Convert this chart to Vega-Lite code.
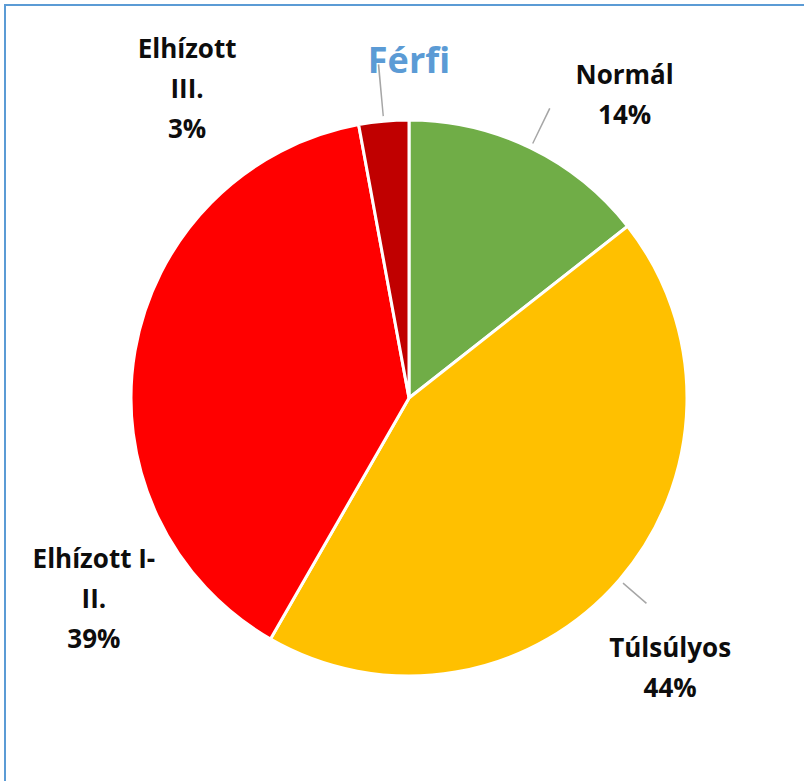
{
  "$schema": "https://vega.github.io/schema/vega-lite/v6.json",
  "width": 808,
  "height": 786,
  "autosize": {"type": "none"},
  "padding": {"left": 5, "top": 5, "right": 0, "bottom": 0},
  "background": "#ffffff",
  "view": {"stroke": "#5B9BD5", "strokeWidth": 2},
  "config": {"view": {"stroke": "#5B9BD5", "strokeWidth": 2}},
  "title": {
    "text": "Férfi",
    "color": "#5B9BD5",
    "font": "Open Sans",
    "fontSize": 36,
    "fontWeight": "bold",
    "anchor": "middle",
    "frame": "group",
    "baseline": "alphabetic",
    "offset": -104
  },
  "data": {
    "values": [
      {"kategoria": "Normál", "arany": 14.4, "sorrend": 1, "felirat": "Normál\n14%"},
      {"kategoria": "Túlsúlyos", "arany": 43.9, "sorrend": 2, "felirat": "Túlsúlyos\n44%"},
      {"kategoria": "Elhízott I-II.", "arany": 38.8, "sorrend": 3, "felirat": "Elhízott I-\nII.\n39%"},
      {"kategoria": "Elhízott III.", "arany": 2.9, "sorrend": 4, "felirat": "Elhízott\nIII.\n3%"}
    ]
  },
  "layer": [
    {
      "mark": {"type": "arc", "outerRadius": 278, "stroke": "#ffffff", "strokeWidth": 3},
      "encoding": {
        "theta": {"field": "arany", "type": "quantitative", "stack": true, "scale": {"domain": [0, 100]}},
        "order": {"field": "sorrend", "type": "quantitative"},
        "color": {
          "field": "kategoria",
          "type": "nominal",
          "scale": {
            "domain": ["Normál", "Túlsúlyos", "Elhízott I-II.", "Elhízott III."],
            "range": ["#70AD47", "#FFC000", "#FF0000", "#C00000"]
          },
          "legend": null
        }
      }
    },
    {
      "transform": [
        {"stack": "arany", "groupby": [], "sort": [{"field": "sorrend", "order": "ascending"}], "as": ["s0", "s1"]},
        {"filter": "datum.kategoria === 'Normál'"}
      ],
      "mark": {"type": "arc", "radius": 322, "radius2": 283, "thetaOffset": 0.4499, "theta2Offset": -0.4499, "fill": "#A6A6A6"},
      "encoding": {
        "theta": {"field": "s0", "type": "quantitative", "scale": {"domain": [0, 100]}},
        "theta2": {"field": "s1"}
      }
    },
    {
      "transform": [
        {"stack": "arany", "groupby": [], "sort": [{"field": "sorrend", "order": "ascending"}], "as": ["s0", "s1"]},
        {"filter": "datum.kategoria === 'Túlsúlyos'"}
      ],
      "mark": {"type": "arc", "radius": 314, "radius2": 283, "thetaOffset": 1.3767, "theta2Offset": -1.3767, "fill": "#A6A6A6"},
      "encoding": {
        "theta": {"field": "s0", "type": "quantitative", "scale": {"domain": [0, 100]}},
        "theta2": {"field": "s1"}
      }
    },
    {
      "transform": [
        {"stack": "arany", "groupby": [], "sort": [{"field": "sorrend", "order": "ascending"}], "as": ["s0", "s1"]},
        {"filter": "datum.kategoria === 'Elhízott III.'"}
      ],
      "mark": {"type": "arc", "radius": 335, "radius2": 283, "thetaOffset": 0.0886, "theta2Offset": -0.0886, "fill": "#A6A6A6"},
      "encoding": {
        "theta": {"field": "s0", "type": "quantitative", "scale": {"domain": [0, 100]}},
        "theta2": {"field": "s1"}
      }
    },
    {
      "mark": {"type": "text", "radius": 340, "dx": 67, "dy": -16, "font": "Open Sans", "fontSize": 26, "fontWeight": "bold", "lineHeight": 40, "lineBreak": "\n", "align": "center", "baseline": "middle", "color": "#0D0D0D"},
      "encoding": {
        "theta": {"field": "arany", "type": "quantitative", "stack": true, "scale": {"domain": [0, 100]}},
        "order": {"field": "sorrend", "type": "quantitative"},
        "detail": {"field": "kategoria", "type": "nominal"},
        "text": {"condition": {"test": "datum.kategoria === 'Normál'", "field": "felirat"}, "value": ""}
      }
    },
    {
      "mark": {"type": "text", "radius": 340, "dx": 4, "dy": 29, "font": "Open Sans", "fontSize": 26, "fontWeight": "bold", "lineHeight": 40, "lineBreak": "\n", "align": "center", "baseline": "middle", "color": "#0D0D0D"},
      "encoding": {
        "theta": {"field": "arany", "type": "quantitative", "stack": true, "scale": {"domain": [0, 100]}},
        "order": {"field": "sorrend", "type": "quantitative"},
        "detail": {"field": "kategoria", "type": "nominal"},
        "text": {"condition": {"test": "datum.kategoria === 'Túlsúlyos'", "field": "felirat"}, "value": ""}
      }
    },
    {
      "mark": {"type": "text", "radius": 340, "dx": 20, "dy": 219, "font": "Open Sans", "fontSize": 26, "fontWeight": "bold", "lineHeight": 40, "lineBreak": "\n", "align": "center", "baseline": "middle", "color": "#0D0D0D"},
      "encoding": {
        "theta": {"field": "arany", "type": "quantitative", "stack": true, "scale": {"domain": [0, 100]}},
        "order": {"field": "sorrend", "type": "quantitative"},
        "detail": {"field": "kategoria", "type": "nominal"},
        "text": {"condition": {"test": "datum.kategoria === 'Elhízott I-II.'", "field": "felirat"}, "value": ""}
      }
    },
    {
      "mark": {"type": "text", "radius": 340, "dx": -191, "dy": -9, "font": "Open Sans", "fontSize": 26, "fontWeight": "bold", "lineHeight": 40, "lineBreak": "\n", "align": "center", "baseline": "middle", "color": "#0D0D0D"},
      "encoding": {
        "theta": {"field": "arany", "type": "quantitative", "stack": true, "scale": {"domain": [0, 100]}},
        "order": {"field": "sorrend", "type": "quantitative"},
        "detail": {"field": "kategoria", "type": "nominal"},
        "text": {"condition": {"test": "datum.kategoria === 'Elhízott III.'", "field": "felirat"}, "value": ""}
      }
    }
  ]
}
